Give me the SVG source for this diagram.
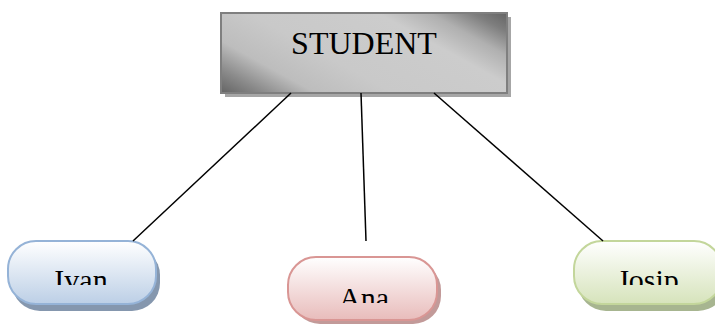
<svg xmlns="http://www.w3.org/2000/svg" width="715" height="327" viewBox="0 0 715 327">
<defs>
<linearGradient id="gStudent" gradientUnits="userSpaceOnUse" x1="314" y1="144" x2="414" y2="-38">
<stop offset="0" stop-color="#646464"/>
<stop offset="0.1" stop-color="#8a8a8a"/>
<stop offset="0.22" stop-color="#bdbdbd"/>
<stop offset="0.4" stop-color="#c9c9c9"/>
<stop offset="0.7" stop-color="#cccccc"/>
<stop offset="0.82" stop-color="#b0b0b0"/>
<stop offset="0.92" stop-color="#7e7e7e"/>
<stop offset="1" stop-color="#646464"/>
</linearGradient>
<linearGradient id="gBlue" x1="0" y1="0" x2="0" y2="1">
<stop offset="0" stop-color="#ffffff"/>
<stop offset="1" stop-color="#bccfe6"/>
</linearGradient>
<linearGradient id="gRed" x1="0" y1="0" x2="0" y2="1">
<stop offset="0" stop-color="#ffffff"/>
<stop offset="1" stop-color="#e8bcbb"/>
</linearGradient>
<linearGradient id="gGreen" x1="0" y1="0" x2="0" y2="1">
<stop offset="0" stop-color="#ffffff"/>
<stop offset="1" stop-color="#d6e3bb"/>
</linearGradient>
<clipPath id="cIvan"><rect x="0" y="230" width="180" height="55"/></clipPath>
<clipPath id="cAna"><rect x="280" y="250" width="170" height="53"/></clipPath>
<clipPath id="cJosip"><rect x="560" y="230" width="160" height="55"/></clipPath>
</defs>
<style>
.lbl{font-family:"Liberation Serif","Times New Roman",serif;font-size:30px;fill:#000;text-anchor:middle}
.edge{stroke:#000;stroke-width:1.5;fill:none}
</style>
<g id="student">
<rect x="225" y="17" width="286" height="80" fill="#a6a6a6"/>
<rect x="221" y="13" width="286" height="80" fill="url(#gStudent)" stroke="#7f7f7f" stroke-width="2"/>
<text class="lbl" x="364" y="54" style="font-size:32px">STUDENT</text>
</g>
<g id="ivan">
<rect x="12" y="247" width="148" height="64" rx="28" fill="#8597ae"/>
<rect x="8" y="241" width="148" height="63" rx="28" fill="url(#gBlue)" stroke="#95b3d7" stroke-width="2"/>
<text class="lbl" x="81" y="290" clip-path="url(#cIvan)">Ivan</text>
</g>
<g id="ana">
<rect x="292" y="262" width="149" height="62" rx="28" fill="#c29a99"/>
<rect x="288" y="257" width="149" height="63" rx="28" fill="url(#gRed)" stroke="#d99694" stroke-width="2"/>
<text class="lbl" x="364" y="308" clip-path="url(#cAna)">Ana</text>
</g>
<g id="josip">
<rect x="578" y="247" width="148" height="64" rx="28" fill="#a7b590"/>
<rect x="574" y="241" width="148" height="63" rx="28" fill="url(#gGreen)" stroke="#c3d69b" stroke-width="2"/>
<text class="lbl" x="648" y="290" clip-path="url(#cJosip)">Josip</text>
</g>
<g id="connectors">
<line class="edge" x1="291" y1="93" x2="133" y2="241"/>
<line class="edge" x1="361" y1="93" x2="366" y2="241"/>
<line class="edge" x1="434" y1="93" x2="603" y2="241"/>
</g>
</svg>
